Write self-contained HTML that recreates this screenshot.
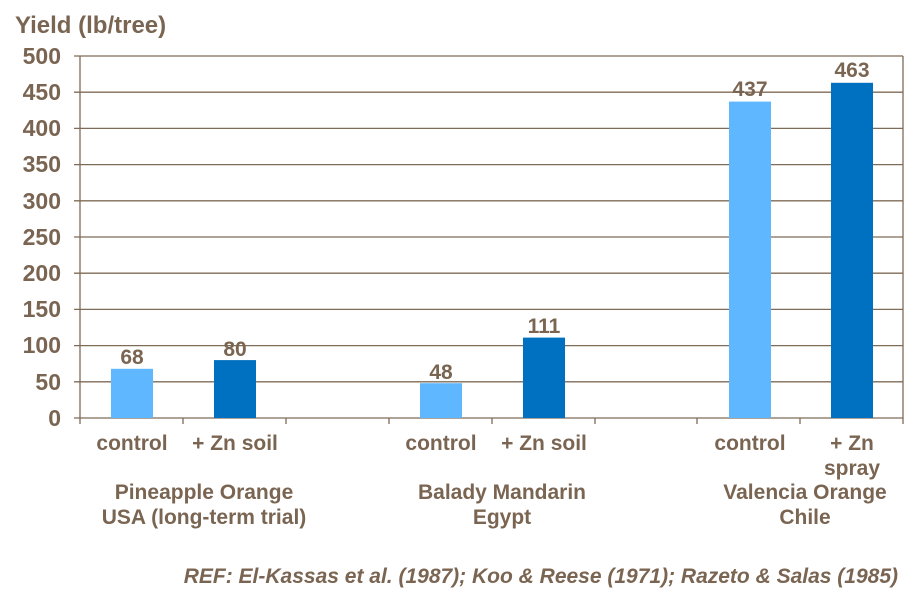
<!DOCTYPE html>
<html><head><style>
body{margin:0;background:#fff;}
svg text{font-family:"Liberation Sans",Arial,sans-serif;font-weight:bold;fill:#7a6552;}
</style></head><body>
<svg width="923" height="601" viewBox="0 0 923 601" xmlns="http://www.w3.org/2000/svg">
<text x="15" y="33" font-size="24">Yield (lb/tree)</text>
<g stroke="#7f6b57" stroke-width="1.3">
<line x1="74" x2="903" y1="56" y2="56"/>
<line x1="74" x2="903" y1="92.2" y2="92.2"/>
<line x1="74" x2="903" y1="128.4" y2="128.4"/>
<line x1="74" x2="903" y1="164.6" y2="164.6"/>
<line x1="74" x2="903" y1="200.8" y2="200.8"/>
<line x1="74" x2="903" y1="237" y2="237"/>
<line x1="74" x2="903" y1="273.2" y2="273.2"/>
<line x1="74" x2="903" y1="309.4" y2="309.4"/>
<line x1="74" x2="903" y1="345.6" y2="345.6"/>
<line x1="74" x2="903" y1="381.8" y2="381.8"/>
<line x1="74" x2="903" y1="418" y2="418"/>
<line x1="80" x2="80" y1="56" y2="424"/>
<line x1="903" x2="903" y1="56" y2="424"/>
<line x1="183" x2="183" y1="418" y2="424"/>
<line x1="286" x2="286" y1="418" y2="424"/>
<line x1="389" x2="389" y1="418" y2="424"/>
<line x1="492" x2="492" y1="418" y2="424"/>
<line x1="595" x2="595" y1="418" y2="424"/>
<line x1="697" x2="697" y1="418" y2="424"/>
<line x1="800" x2="800" y1="418" y2="424"/>
</g>
<g font-size="23" text-anchor="end">
<text x="61" y="64">500</text><text x="61" y="100">450</text><text x="61" y="136">400</text>
<text x="61" y="172">350</text><text x="61" y="209">300</text><text x="61" y="245">250</text>
<text x="61" y="281">200</text><text x="61" y="317">150</text><text x="61" y="353">100</text>
<text x="61" y="390">50</text><text x="61" y="426">0</text>
</g>
<rect x="111" y="368.8" width="42" height="49.2" fill="#5fb8ff"/>
<rect x="214" y="360.1" width="42" height="57.9" fill="#0070c0"/>
<rect x="420" y="383.2" width="42" height="34.8" fill="#5fb8ff"/>
<rect x="523" y="337.6" width="42" height="80.4" fill="#0070c0"/>
<rect x="729" y="101.6" width="42" height="316.4" fill="#5fb8ff"/>
<rect x="831" y="82.8" width="42" height="335.2" fill="#0070c0"/>
<g font-size="21" text-anchor="middle">
<text x="132" y="364" font-size="21">68</text><text x="235" y="356" font-size="21">80</text>
<text x="441" y="379" font-size="21">48</text><text x="544" y="333" font-size="21">111</text>
<text x="750" y="96" font-size="21">437</text><text x="852" y="77" font-size="21">463</text>
<text x="132" y="450">control</text><text x="235" y="450">+ Zn soil</text>
<text x="441" y="450">control</text><text x="544" y="450">+ Zn soil</text>
<text x="750" y="450">control</text><text x="852" y="450">+ Zn</text>
<text x="852" y="475">spray</text>
<text x="204" y="499">Pineapple Orange</text><text x="204" y="524">USA (long-term trial)</text>
<text x="502" y="499">Balady Mandarin</text><text x="502" y="524">Egypt</text>
<text x="805" y="499">Valencia Orange</text><text x="805" y="524">Chile</text>
</g>
<text x="898" y="583" font-size="21" font-style="italic" text-anchor="end">REF: El-Kassas et al. (1987); Koo &amp; Reese (1971); Razeto &amp; Salas (1985)</text>
</svg>
</body></html>
